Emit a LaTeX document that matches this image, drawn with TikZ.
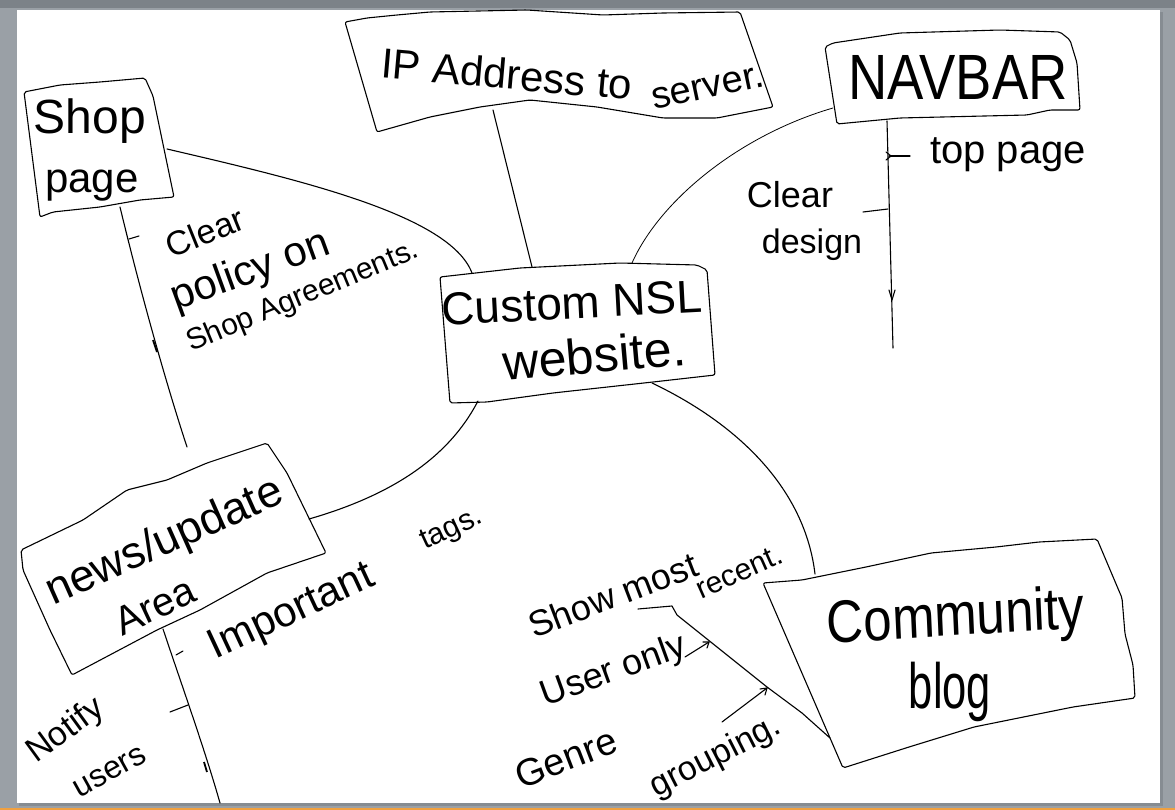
\documentclass[tikz,border=0pt]{standalone}
\usepackage{fontspec}
\setmainfont{Liberation Sans}
\definecolor{bggray}{HTML}{9AA0A6}
\definecolor{topbar}{HTML}{7C8288}
\definecolor{shadowgray}{HTML}{868C92}
\definecolor{edgeorange}{HTML}{F0A040}
\begin{document}
\begin{tikzpicture}[x=1pt,y=-1pt,
  pen/.style={line width=1.1pt, line join=round, line cap=round},
  thinpen/.style={line width=0.8pt, line cap=round},
  boxline/.style={pen, rounded corners=2pt},
  hand/.style={inner sep=0pt, anchor=center, text=black},
  fs/.style={font=\fontsize{#1}{#1}\selectfont}
]
\useasboundingbox (0,0) rectangle (1175,810);
% page frame
\fill[bggray] (0,0) rectangle (1175,810);
\fill[topbar] (0,0) rectangle (1175,8);
\fill[shadowgray] (19,12) rectangle (1163,806);
\fill[white] (17,10) rectangle (1160,803);
\fill[edgeorange] (0,808) rectangle (1175,810);

% ---------- boxes ----------
\draw[boxline] (24,92) -- (60,85) -- (100,82) -- (145,78) -- (153,96) -- (174,197)
  -- (140,200) -- (100,207) -- (53,212) -- (40,217) -- cycle;
\draw[boxline] (345,22) -- (367,18) -- (397,15) -- (430,12) -- (527,10) -- (603,15)
  -- (663,13) -- (740,12) -- (773,107) -- (717,118) -- (663,118) -- (597,107)
  -- (530,100) -- (480,107) -- (430,117) -- (377,132) -- cycle;
\draw[boxline] (825,47) -- (833,43) -- (900,33) -- (1000,30) -- (1060,32) -- (1070,40)
  -- (1077,63) -- (1080,110) -- (1050,110) -- (1027,115) -- (900,118) -- (837,124) -- cycle;
\draw[boxline] (440,277) -- (520,268) -- (620,263) -- (697,265) -- (707,270) -- (715,375)
  -- (653,382) -- (553,393) -- (487,402) -- (450,403) -- cycle;
\draw[boxline] (21,550) -- (83,520) -- (127,490) -- (167,480) -- (207,463) -- (267,443)
  -- (287,473) -- (326,553) -- (267,573) -- (200,610) -- (157,630) -- (72,675)
  -- (50,630) -- (23,570) -- cycle;
\draw[boxline] (763,583) -- (802,580) -- (866,567) -- (931,553) -- (996,547) -- (1039,542)
  -- (1097,539) -- (1122,598) -- (1125,634) -- (1133,665) -- (1135,698) -- (1073,707)
  -- (974,727) -- (909,747) -- (843,768) -- cycle;

% ---------- box texts ----------
\node[hand, fs=48] (shop) at (90,121) {Shop};
\node[hand, fs=42] (page) at (92,186) {page};
\node[hand, fs=42, rotate=-5] (ip) at (507,74) {IP Address to};
\node[hand, fs=38, rotate=12] (server) at (708,88) {server.};
\node[hand, fs=64, xscale=0.85] (navbar) at (958,77) {NAVBAR};
\node[hand, fs=46, rotate=3] (custom) at (572,303) {Custom NSL};
\node[hand, fs=50, rotate=5] (website) at (594,355) {website.};
\node[hand, fs=45, rotate=24] (news) at (165,543) {news/update};
\node[hand, fs=40, rotate=25] (area) at (155,606) {Area};
\node[hand, fs=60, xscale=0.85, rotate=3] (community) at (956,620) {Community};
\node[hand, fs=64, xscale=0.68] (blog) at (950,692) {blog};

% ---------- connection points ----------
\coordinate (shopE) at (167,149);
\coordinate (shopS) at (120,207);
\coordinate (shopEnd) at (187,447);
\coordinate (ipS) at (493,110);
\coordinate (navW) at (833,108);
\coordinate (navS) at (887,121);
\coordinate (navEnd) at (893,348);
\coordinate (custA) at (472,273);
\coordinate (custB) at (532,267);
\coordinate (custC) at (632,263);
\coordinate (custSW) at (478,401);
\coordinate (custS) at (652,383);
\coordinate (newsE) at (309,519);
\coordinate (newsS) at (163,629);
\coordinate (newsEnd) at (220,803);
\coordinate (commN) at (815,574);
\coordinate (commW) at (830,738);
\coordinate (showEnd) at (638,609);

% ---------- connectors ----------
\draw[pen] (shopE) .. controls (300,180) and (450,215) .. (custA);
\draw[pen] (ipS) -- (custB);
\draw[thinpen] (navW) .. controls (740,135) and (660,200) .. (custC);
\draw[pen] (custSW) .. controls (455,445) and (410,490) .. (newsE);
\draw[pen] (custS) .. controls (740,425) and (805,490) .. (commN);

% spines
\draw[pen] (shopS) .. controls (140,290) and (165,380) .. (shopEnd);
\draw[pen] (navS) -- (navEnd);
\draw[pen] (newsS) .. controls (180,680) and (205,750) .. (newsEnd);
\draw[pen] (showEnd) -- (672,606) -- (677,615) -- (767,687) -- (802,713) -- (commW);

% ticks and small arrows
\coordinate (t1a) at (129,239); \coordinate (t1b) at (139,236);
\draw[pen] (t1a) -- (t1b);
\draw[line width=1.8pt] (153,340) -- (157,352);
\coordinate (t2a) at (889,156); \coordinate (t2b) at (910,156);
\draw[pen] (t2a) -- (t2b);
\draw[pen] (886,152) -- (891,156) -- (886,160);
\coordinate (t3a) at (863,212); \coordinate (t3b) at (888,209);
\draw[pen] (t3a) -- (t3b);
\draw[pen] (889,290) -- (892,300) -- (895,290);
\coordinate (t4a) at (176,655); \coordinate (t4b) at (183,651);
\draw[pen] (t4a) -- (t4b);
\coordinate (t5a) at (170,712); \coordinate (t5b) at (188,705);
\draw[pen] (t5a) -- (t5b);
\draw[line width=1.8pt] (204,762) -- (207,772);
\coordinate (uA) at (685,657); \coordinate (uB) at (709,642);
\draw[pen] (uA) -- (uB);
\draw[pen] (703,642) -- (709,642) -- (707,648);
\coordinate (gA) at (722,722); \coordinate (gB) at (767,688);
\draw[pen] (gA) -- (gB);
\draw[pen] (760,689) -- (767,688) -- (765,695);

% ---------- labels ----------
\node[hand, fs=40] (toppage) at (1008,155) {top page};
\node[hand, fs=36] (clearA) at (790,195) {Clear};
\node[hand, fs=34] (design) at (812,245) {design};
\node[hand, fs=34, rotate=22] (clearB) at (205,232) {Clear};
\node[hand, fs=42, rotate=20] (policy) at (251,272) {policy on};
\node[hand, fs=30, rotate=22.6] (agree) at (303,297) {Shop Agreements.};
\node[hand, fs=42, rotate=25] (important) at (292,613) {Important};
\node[hand, fs=30, rotate=25] (tags) at (452,530) {tags.};
\node[hand, fs=34, rotate=36] (notify) at (66,731) {Notify};
\node[hand, fs=32, rotate=29] (users) at (110,772) {users};
\node[hand, fs=36, rotate=21] (show) at (613,595) {Show most};
\node[hand, fs=30, rotate=24] (recent) at (739,572) {recent.};
\node[hand, fs=36, rotate=20] (useronly) at (614,672) {User only};
\node[hand, fs=38, rotate=21] (genre) at (566,758) {Genre};
\node[hand, fs=34, rotate=27] (grouping) at (716,757) {grouping.};
\end{tikzpicture}
\end{document}
